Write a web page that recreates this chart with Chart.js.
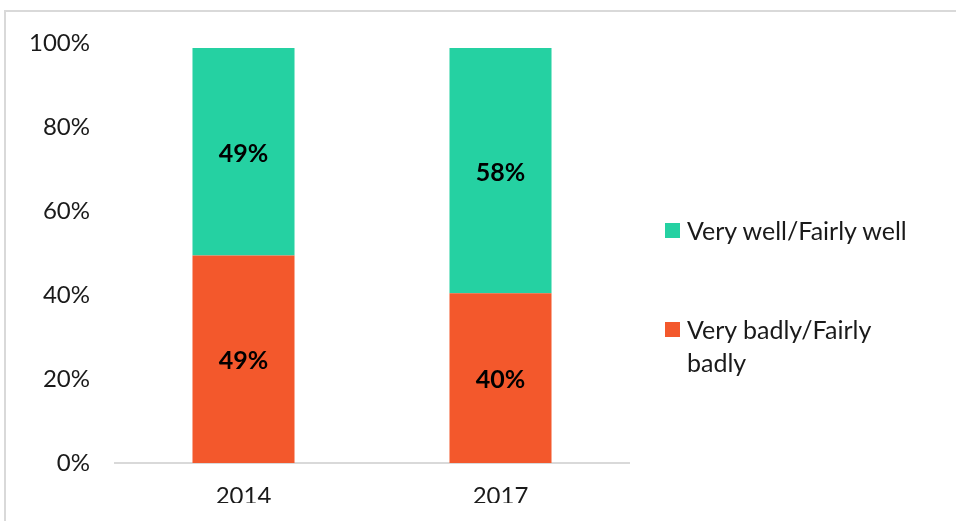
<!DOCTYPE html>
<html>
<head>
<meta charset="utf-8">
<script src="https://cdn.jsdelivr.net/npm/chart.js@4/dist/chart.umd.min.js"></script>
<style>
  html, body { margin: 0; padding: 0; background: #fff; }
  #wrap { position: relative; width: 956px; height: 521px; overflow: hidden; }
  #frame { position: absolute; left: 4px; top: 10px; width: 980px; height: 560px; border: 2px solid #d9d9d9; box-sizing: border-box; }
  canvas { position: absolute; left: 0; top: 0; }
  #legend { position: absolute; left: 665px; top: 0; font-family: Lato, "Noto Sans", sans-serif; font-size: 25px; color: #1a1a1a; }
  .item { position: absolute; left: 0; display: flex; align-items: flex-start; }
  .sw { width: 15px; height: 15px; margin-top: 9px; margin-right: 7px; flex: none; }
  .txt { line-height: 33px; width: 230px; }
</style>
</head>
<body>
<div id="wrap">
  <div id="frame"></div>
  <canvas id="c" width="956" height="521"></canvas>
  <div id="legend"></div>
</div>
<script>
const categories = ["2014", "2017"];
const seriesNames = ["Very badly/Fairly badly", "Very well/Fairly well"];
const badlyValues = [49.4, 40.4];
const wellValues = [49.4, 58.4];
const yTicks = [0, 20, 40, 60, 80, 100];
const colors = ["#F3582C", "#25D1A2"];

const labelPlugin = {
  id: "segLabels",
  afterDatasetsDraw(chart) {
    const ctx = chart.ctx;
    ctx.save();
    ctx.font = "bold 25px Lato, 'Noto Sans', sans-serif";
    ctx.fillStyle = "#000";
    ctx.textAlign = "center";
    ctx.textBaseline = "middle";
    chart.data.datasets.forEach((ds, i) => {
      const meta = chart.getDatasetMeta(i);
      meta.data.forEach((el, j) => {
        const y = (el.y + el.base) / 2 + 2;
        ctx.fillText(Math.round(ds.data[j]) + "%", el.x, y);
      });
    });
    ctx.restore();
  }
};

const chart = new Chart(document.getElementById("c"), {
  type: "bar",
  data: {
    labels: categories,
    datasets: [
      { label: seriesNames[0], data: badlyValues, backgroundColor: colors[0], barPercentage: 0.397, categoryPercentage: 1 },
      { label: seriesNames[1], data: wellValues, backgroundColor: colors[1], barPercentage: 0.397, categoryPercentage: 1 }
    ]
  },
  options: {
    responsive: false,
    animation: false,
    layout: { padding: { left: 0, right: 327, top: 43, bottom: 18 } },
    plugins: { legend: { display: false }, tooltip: { enabled: false } },
    scales: {
      x: {
        stacked: true,
        grid: { display: false },
        border: { display: true, color: "#d9d9d9", width: 2 },
        ticks: { color: "#1a1a1a", font: { family: "Lato, 'Noto Sans', sans-serif", size: 24 }, padding: 11 },
        afterFit(s) { s.height = 40; }
      },
      y: {
        stacked: true,
        min: 0, max: 100,
        afterBuildTicks(s) { s.ticks = yTicks.map(v => ({ value: v })); },
        grid: { display: false, drawTicks: false },
        border: { display: false },
        ticks: { color: "#1a1a1a", font: { family: "Lato, 'Noto Sans', sans-serif", size: 24 }, padding: 25, callback: v => v + "%" },
        afterFit(s) { s.width = 115; }
      }
    }
  },
  plugins: [labelPlugin]
});

// HTML legend built from chart datasets (top series first)
const legend = document.getElementById("legend");
const tops = [313, 214];
chart.data.datasets.forEach((ds, i) => {
  const item = document.createElement("div");
  item.className = "item";
  item.style.top = tops[i] + "px";
  const sw = document.createElement("div");
  sw.className = "sw";
  sw.style.background = ds.backgroundColor;
  const t = document.createElement("div");
  t.className = "txt";
  t.textContent = ds.label;
  item.appendChild(sw); item.appendChild(t);
  legend.appendChild(item);
});
</script>
</body>
</html>
